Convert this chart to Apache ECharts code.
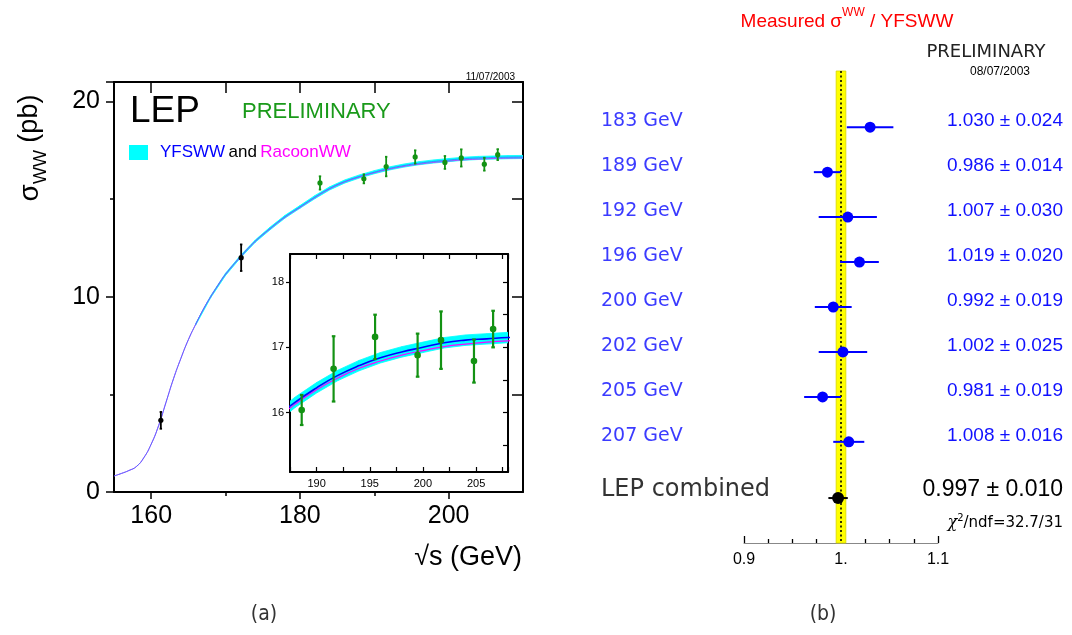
<!DOCTYPE html>
<html><head><meta charset="utf-8">
<script src="https://cdn.jsdelivr.net/npm/echarts@6/dist/echarts.min.js"></script>
<style>html,body{margin:0;padding:0;background:#fff;}#c{width:1072px;height:635px;}</style>
</head><body><div id="c"></div>
<script>
// ---------------- data ----------------
const curveEnergy = [155,156,157,158,159,160,161,162,163,164,165,166,167,168,169,170,172,174,176,178,180,182,184,186,188,190,192,194,196,198,200,202,204,206,208,210];
const yfswwSigma  = [0.82,0.95,1.1,1.3,1.75,2.45,3.4,4.6,5.8,6.85,7.8,8.6,9.35,10.0,10.6,11.15,12.05,12.85,13.5,14.1,14.6,15.1,15.55,15.9,16.16,16.38,16.57,16.72,16.84,16.93,17.0,17.07,17.11,17.13,17.15,17.16];
const racoonSigma = [0.82,0.95,1.1,1.3,1.75,2.45,3.4,4.6,5.8,6.85,7.8,8.6,9.35,10.0,10.6,11.15,12.03,12.83,13.48,14.07,14.57,15.07,15.52,15.87,16.13,16.35,16.53,16.68,16.79,16.88,16.95,17.01,17.05,17.08,17.10,17.11];
const bandEnergy  = [166,168,170,172,174,176,178,180,182,184,186,188,190,192,194,196,198,200,202,204,206,208,210];
const bandLow     = [8.56,9.95,11.09,11.99,12.79,13.43,14.03,14.53,15.02,15.47,15.82,16.08,16.30,16.49,16.64,16.76,16.85,16.92,16.99,17.03,17.05,17.07,17.08];
const bandHigh    = [8.64,10.05,11.21,12.11,12.91,13.57,14.17,14.67,15.18,15.63,15.98,16.24,16.46,16.65,16.80,16.92,17.01,17.08,17.15,17.19,17.21,17.23,17.24];

const thresholdEnergy = [161.3, 172.1];
const thresholdSigma  = [3.67, 12.0];
const thresholdErr    = [0.43, 0.68];
const lep2Energy = [182.7, 188.6, 191.6, 195.5, 199.5, 201.7, 204.8, 206.6];
const lep2Sigma  = [15.83, 16.04, 16.67, 17.16, 16.88, 17.11, 16.79, 17.28];
const lep2Err    = [0.34, 0.23, 0.5, 0.34, 0.33, 0.44, 0.33, 0.28];

const mainXMajor = [160, 180, 200];
const mainXMinor = [170, 190];
const mainXTop   = [160, 170, 180, 190, 200];
const insetYLabels = [16, 17, 18];
const insetYTicks  = [15.5, 16, 16.5, 17, 17.5, 18];

const ratioLabels = ['183 GeV','189 GeV','192 GeV','196 GeV','200 GeV','202 GeV','205 GeV','207 GeV'];
const ratioValue  = [1.030, 0.986, 1.007, 1.019, 0.992, 1.002, 0.981, 1.008];
const ratioErr    = [0.024, 0.014, 0.030, 0.020, 0.019, 0.025, 0.019, 0.016];
const combinedLabel = 'LEP combined';
const combinedValue = 0.997;
const combinedErr   = 0.010;
const chi2Value = '32.7/31';
const theoryBand = [0.995, 1.005];

// ---------------- chart ----------------
const FONT = 'Liberation Sans, Arial, Helvetica, sans-serif';
const GOTH = 'DejaVu Sans, sans-serif';
const chart = echarts.init(document.getElementById('c'), null, {renderer:'canvas'});
const pairs = (xs, ys) => xs.map((x, i) => [x, ys[i]]);
const noSplit = {show:false};
const black = (w) => ({color:'#000', width:w});

function bandSeries(xi, yi, z) {
  return {
    type:'custom', xAxisIndex:xi, yAxisIndex:yi, z, clip:true, silent:true,
    data: bandEnergy.map((e, i) => [e, bandLow[i], bandHigh[i]]),
    encode:{x:0, y:[1,2]},
    renderItem(params, api) {
      const i = params.dataIndex;
      if (i >= bandEnergy.length - 1) return;
      const p1 = api.coord([bandEnergy[i], bandHigh[i]]);
      const p2 = api.coord([bandEnergy[i+1], bandHigh[i+1]]);
      const p3 = api.coord([bandEnergy[i+1], bandLow[i+1]]);
      const p4 = api.coord([bandEnergy[i], bandLow[i]]);
      return {type:'polygon', shape:{points:[p1,p2,p3,p4]}, style:{fill:'#00ffff', stroke:'#00ffff', lineWidth:0.8}};
    }
  };
}
function lineSeries(xi, yi, ys, color, w, z) {
  return {type:'line', xAxisIndex:xi, yAxisIndex:yi, z, data:pairs(curveEnergy, ys), showSymbol:false,
    smooth:0.5, clip:true, silent:true, lineStyle:{color, width:w}};
}
function pointSeries(xi, yi, xs, ys, es, color, r, w, cap, z) {
  return {
    type:'custom', xAxisIndex:xi, yAxisIndex:yi, z, clip:true, silent:true,
    data: xs.map((x, i) => [x, ys[i], es[i]]),
    encode:{x:0, y:1},
    renderItem(params, api) {
      const x = api.value(0), y = api.value(1), e = api.value(2);
      const p = api.coord([x, y]), lo = api.coord([x, y - e]), hi = api.coord([x, y + e]);
      const st = {stroke:color, lineWidth:w};
      return {type:'group', children:[
        {type:'line', shape:{x1:p[0], y1:lo[1], x2:p[0], y2:hi[1]}, style:st},
        {type:'line', shape:{x1:p[0]-cap, y1:lo[1], x2:p[0]+cap, y2:lo[1]}, style:st},
        {type:'line', shape:{x1:p[0]-cap, y1:hi[1], x2:p[0]+cap, y2:hi[1]}, style:st},
        {type:'circle', shape:{cx:p[0], cy:p[1], r}, style:{fill:color}}
      ]};
    }
  };
}

const option = {
  animation:false,
  backgroundColor:'#fff',
  grid:[
    {left:114, top:82, width:409, height:410},
    {left:290, top:254, width:218, height:218, show:true, backgroundColor:'#fff', borderWidth:0},
    {left:744, top:71, width:194, height:472},
    {left:114, top:82, width:409, height:410}
  ],
  xAxis:[
    {gridIndex:0, type:'value', position:'bottom', min:155, max:210,
      axisLine:{show:true, onZero:false, lineStyle:black(2)},
      axisTick:{show:true, customValues:mainXMajor, length:7, lineStyle:black(1.5)},
      axisLabel:{show:true, customValues:mainXMajor, fontSize:25, color:'#000', fontFamily:FONT, margin:12},
      splitLine:noSplit},
    {gridIndex:0, type:'value', position:'top', min:155, max:210,
      axisLine:{show:true, onZero:false, lineStyle:black(2)},
      axisTick:{show:true, inside:true, customValues:mainXTop, length:11, lineStyle:black(1.5)},
      axisLabel:{show:false}, splitLine:noSplit},
    {gridIndex:1, type:'value', position:'bottom', min:187.5, max:208, interval:2.5,
      axisLine:{show:true, onZero:false, lineStyle:black(2)},
      axisTick:{show:true, inside:true, length:5, lineStyle:black(1.2)},
      axisLabel:{show:true, fontSize:11, color:'#000', fontFamily:FONT, margin:6,
        formatter:(v) => (Math.abs(v % 5) < 1e-6 ? String(v) : '')},
      splitLine:noSplit},
    {gridIndex:1, type:'value', position:'top', min:187.5, max:208, interval:2.5,
      axisLine:{show:true, onZero:false, lineStyle:black(2)},
      axisTick:{show:true, inside:true, length:5, lineStyle:black(1.2)},
      axisLabel:{show:false}, splitLine:noSplit},
    {gridIndex:2, type:'value', position:'bottom', min:0.9, max:1.1, interval:0.1,
      axisLine:{show:true, onZero:false, lineStyle:{color:'#888', width:1}},
      axisTick:{show:true, inside:true, length:7, lineStyle:black(1.3)},
      minorTick:{show:true, splitNumber:4, length:4, lineStyle:black(1.3)},
      axisLabel:{show:true, fontSize:16, color:'#000', fontFamily:FONT, margin:9,
        formatter:(v) => (Math.abs(v - 1) < 1e-9 ? '1.' : String(+v.toFixed(1)))},
      splitLine:noSplit},
    {gridIndex:3, type:'value', position:'bottom', min:155, max:210,
      axisLine:{show:false}, axisTick:{show:true, customValues:mainXMinor, length:4, lineStyle:black(1.5)},
      axisLabel:{show:false}, splitLine:noSplit}
  ],
  yAxis:[
    {gridIndex:0, type:'value', position:'left', min:0, max:21, interval:10,
      axisLine:{show:true, onZero:false, lineStyle:black(2)},
      axisTick:{show:true, length:8, lineStyle:black(1.5)},
      minorTick:{show:true, splitNumber:2, length:4, lineStyle:black(1.5)},
      axisLabel:{show:true, fontSize:25, color:'#000', fontFamily:FONT, margin:14},
      splitLine:noSplit, minorSplitLine:{show:false}},
    {gridIndex:0, type:'value', position:'right', min:0, max:21, interval:10,
      axisLine:{show:true, onZero:false, lineStyle:black(2)},
      axisTick:{show:true, inside:true, length:11, lineStyle:black(1.5)},
      minorTick:{show:true, splitNumber:2, length:11, lineStyle:black(1.5)},
      axisLabel:{show:false}, splitLine:noSplit, minorSplitLine:{show:false}},
    {gridIndex:1, type:'value', position:'left', min:15.09, max:18.43,
      axisLine:{show:true, onZero:false, lineStyle:black(2)},
      axisTick:{show:true, customValues:insetYLabels, length:4, lineStyle:black(1.2)},
      axisLabel:{show:true, customValues:insetYLabels, fontSize:11, color:'#000', fontFamily:FONT, margin:6},
      splitLine:noSplit},
    {gridIndex:1, type:'value', position:'right', min:15.09, max:18.43,
      axisLine:{show:true, onZero:false, lineStyle:black(2)},
      axisTick:{show:true, inside:true, customValues:insetYTicks, length:5, lineStyle:black(1.2)},
      axisLabel:{show:false}, splitLine:noSplit},
    {gridIndex:2, type:'value', inverse:true, min:-0.25, max:10.25, show:false},
    {gridIndex:3, type:'value', min:0, max:21, show:false}
  ],
  series:[
    // main panel
    bandSeries(0, 0, 2),
    lineSeries(0, 0, racoonSigma, '#c040ff', 1, 3),
    lineSeries(0, 0, yfswwSigma, 'rgba(60,110,255,0.75)', 1, 4),
    pointSeries(0, 0, thresholdEnergy, thresholdSigma, thresholdErr, '#000', 2.6, 1.8, 1.2, 6),
    pointSeries(0, 0, lep2Energy, lep2Sigma, lep2Err, '#139213', 2.6, 1.8, 1.2, 6),
    // inset
    bandSeries(2, 2, 8),
    lineSeries(2, 2, racoonSigma, '#ff00ff', 1.2, 9),
    lineSeries(2, 2, yfswwSigma, '#0000ff', 1.6, 10),
    pointSeries(2, 2, lep2Energy, lep2Sigma, lep2Err, '#139213', 3.3, 2.2, 1.8, 11),
    // right panel: theory band and reference line
    {type:'custom', xAxisIndex:4, yAxisIndex:4, z:2, silent:true, clip:false,
      data:[[theoryBand[0], theoryBand[1]]], encode:{x:[0,1]},
      renderItem(params, api) {
        const a = api.coord([theoryBand[0], -0.25]), b = api.coord([theoryBand[1], 10.25]);
        const m1 = api.coord([1, -0.25]), m2 = api.coord([1, 10.25]);
        return {type:'group', children:[
          {type:'rect', shape:{x:a[0], y:a[1], width:b[0]-a[0], height:b[1]-a[1]}, style:{fill:'#ffff00', stroke:'#d6d600', lineWidth:0.8}},
          {type:'line', shape:{x1:m1[0], y1:m1[1], x2:m2[0], y2:m2[1]}, style:{stroke:'#000', lineWidth:1.6, lineDash:[2,2.5]}}
        ]};
      }},
    // measurements
    {type:'custom', xAxisIndex:4, yAxisIndex:4, z:5, silent:true, clip:false,
      data: ratioValue.map((v, i) => [v, i + 1, ratioErr[i]]), encode:{x:0, y:1},
      renderItem(params, api) {
        const i = params.dataIndex;
        const v = api.value(0), row = api.value(1), e = api.value(2);
        const p = api.coord([v, row]), lo = api.coord([v - e, row]), hi = api.coord([v + e, row]);
        return {type:'group', children:[
          {type:'line', shape:{x1:lo[0], y1:p[1], x2:hi[0], y2:p[1]}, style:{stroke:'#0000ff', lineWidth:2}},
          {type:'circle', shape:{cx:p[0], cy:p[1], r:5.5}, style:{fill:'#0000ff'}},
          {type:'text', style:{text:ratioLabels[i], x:601, y:p[1]-6, fill:'#3b3bff', fontSize:19, fontFamily:GOTH, align:'left', verticalAlign:'middle'}},
          {type:'text', style:{text:ratioValue[i].toFixed(3) + ' \u00b1 ' + ratioErr[i].toFixed(3), x:1063, y:p[1]-6, fill:'#1010ff', fontSize:19, fontFamily:FONT, align:'right', verticalAlign:'middle'}}
        ]};
      }},
    // combined
    {type:'custom', xAxisIndex:4, yAxisIndex:4, z:5, silent:true, clip:false,
      data:[[combinedValue, ratioValue.length + 1.25, combinedErr]], encode:{x:0, y:1},
      renderItem(params, api) {
        const v = api.value(0), row = api.value(1), e = api.value(2);
        const p = api.coord([v, row]), lo = api.coord([v - e, row]), hi = api.coord([v + e, row]);
        return {type:'group', children:[
          {type:'line', shape:{x1:lo[0], y1:p[1], x2:hi[0], y2:p[1]}, style:{stroke:'#000', lineWidth:2}},
          {type:'circle', shape:{cx:p[0], cy:p[1], r:6}, style:{fill:'#000'}},
          {type:'text', style:{text:combinedLabel, x:601, y:p[1]-8, fill:'#333', fontSize:24, fontFamily:GOTH, align:'left', verticalAlign:'middle'}},
          {type:'text', style:{text:combinedValue.toFixed(3) + ' \u00b1 ' + combinedErr.toFixed(3), x:1063, y:p[1]-8, fill:'#000', fontSize:23, fontFamily:FONT, align:'right', verticalAlign:'middle'}},
          {type:'text', style:{text:'{c|\u03c7}{s|2}{n|/ndf=' + chi2Value + '}', x:1063, y:p[1]+24, align:'right', verticalAlign:'middle',
            rich:{c:{fontSize:16, fontFamily:'DejaVu Serif, serif', fontStyle:'italic', fill:'#000', verticalAlign:'bottom', lineHeight:18},
                  s:{fontSize:10, fontFamily:GOTH, fill:'#000', verticalAlign:'top', lineHeight:18},
                  n:{fontSize:15, fontFamily:GOTH, fill:'#000', verticalAlign:'bottom', lineHeight:18}}}}
        ]};
      }}
  ],
  graphic:[
    {type:'text', x:130, y:112, z:20, style:{text:'LEP', fontSize:37, fontFamily:FONT, fill:'#000', verticalAlign:'middle'}},
    {type:'text', x:242, y:112, z:20, style:{text:'PRELIMINARY', fontSize:22, fontFamily:FONT, fill:'#1a9a1a', verticalAlign:'middle'}},
    {type:'rect', x:129, y:145, z:20, shape:{width:19, height:15}, style:{fill:'#00ffff'}},
    {type:'text', x:160, y:152, z:20, style:{text:'{b|YFSWW} {k|and} {m|RacoonWW}', verticalAlign:'middle',
      rich:{b:{fill:'#0000ff', fontSize:17, fontFamily:FONT}, k:{fill:'#000', fontSize:17, fontFamily:FONT}, m:{fill:'#ff00ff', fontSize:17, fontFamily:FONT}}}},
    {type:'text', x:515, y:77, z:20, style:{text:'11/07/2003', fontSize:10, fontFamily:FONT, fill:'#000', align:'right', verticalAlign:'middle'}},
    {type:'text', x:33, y:148, rotation:Math.PI/2, z:20, style:{text:'{s|\u03c3}{w|WW}{p| (pb)}', align:'center', verticalAlign:'middle',
      rich:{s:{fontSize:28, fontFamily:FONT, fill:'#000', verticalAlign:'top', lineHeight:34}, w:{fontSize:18, fontFamily:FONT, fill:'#000', verticalAlign:'bottom', lineHeight:34}, p:{fontSize:27, fontFamily:FONT, fill:'#000', verticalAlign:'top', lineHeight:34}}}},
    {type:'text', x:522, y:558, z:20, style:{text:'\u221as (GeV)', fontSize:27, fontFamily:FONT, fill:'#000', align:'right', verticalAlign:'middle'}},
    {type:'text', x:847, y:19, z:20, style:{text:'{a|Measured \u03c3}{s|WW}{a| / YFSWW}', align:'center', verticalAlign:'middle',
      rich:{a:{fontSize:19, fontFamily:FONT, fill:'#ff0000', verticalAlign:'bottom', lineHeight:24}, s:{fontSize:12, fontFamily:FONT, fill:'#ff0000', verticalAlign:'top', lineHeight:24}}}},
    {type:'text', x:986, y:52, z:20, style:{text:'PRELIMINARY', fontSize:18, fontFamily:GOTH, fill:'#222', align:'center', verticalAlign:'middle'}},
    {type:'text', x:1000, y:72, z:20, style:{text:'08/07/2003', fontSize:12, fontFamily:FONT, fill:'#000', align:'center', verticalAlign:'middle'}},
    {type:'text', x:264, y:615, z:20, style:{text:'(a)', fontSize:21, fontFamily:'Liberation Sans Narrow, DejaVu Sans Condensed, sans-serif', fill:'#333', align:'center', verticalAlign:'middle'}},
    {type:'text', x:823, y:615, z:20, style:{text:'(b)', fontSize:21, fontFamily:'Liberation Sans Narrow, DejaVu Sans Condensed, sans-serif', fill:'#333', align:'center', verticalAlign:'middle'}}
  ]
};
chart.setOption(option);
</script>
</body></html>
